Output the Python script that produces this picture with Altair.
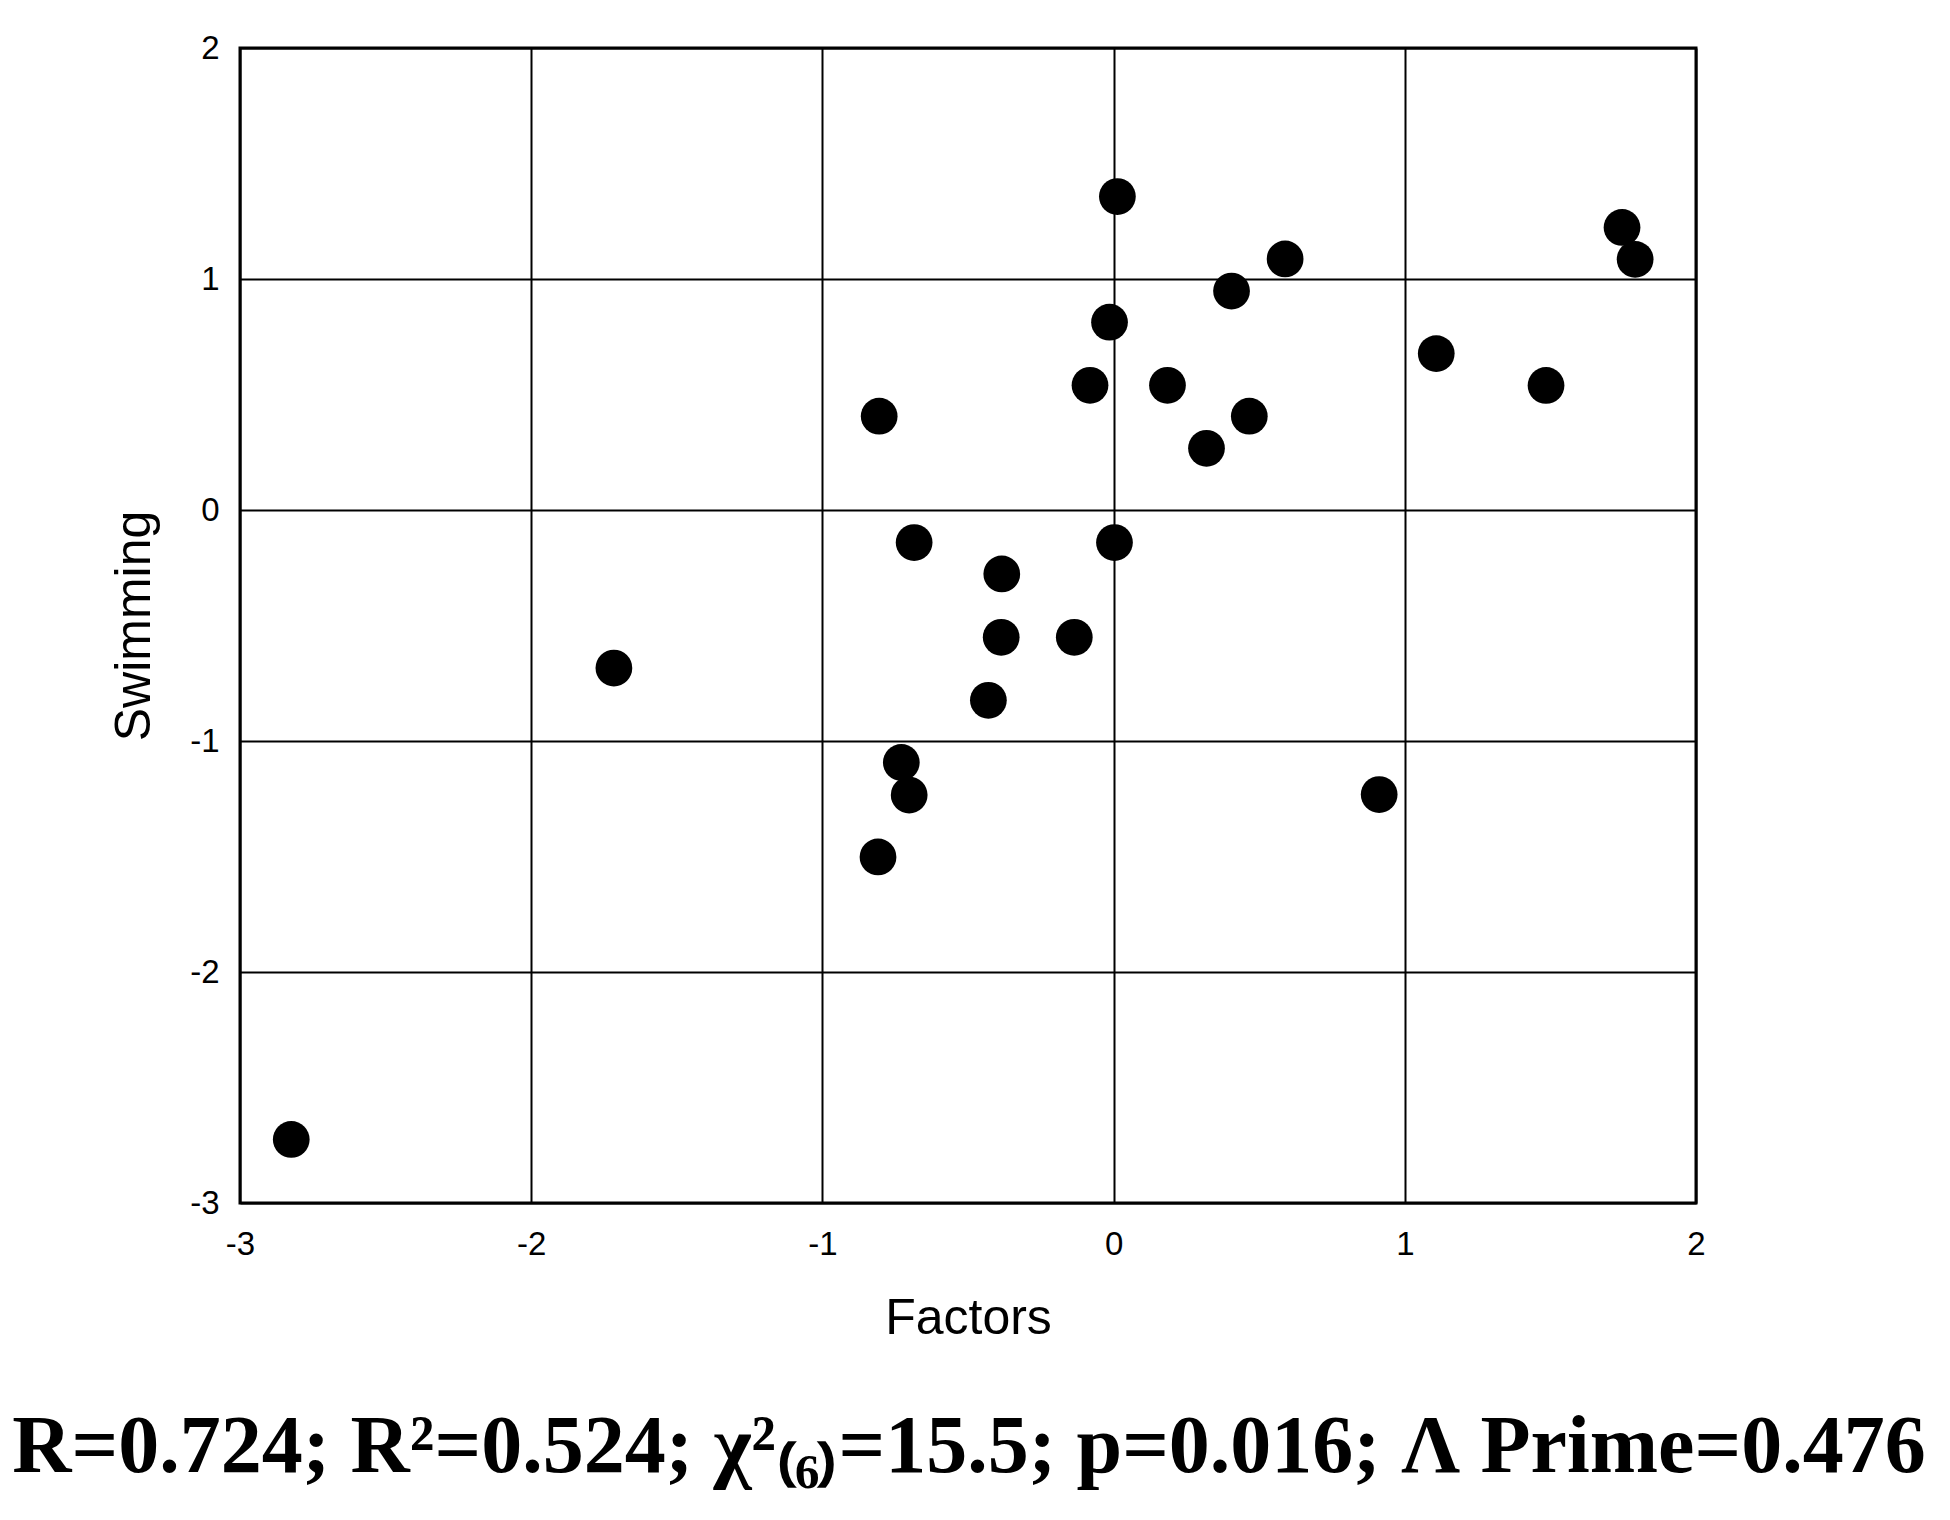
import pandas as pd
import altair as alt

# factor score vs swimming score
factors = [-2.824, -1.716, -0.805, -0.685, -0.729, -0.702, -0.809, -0.430,
           -0.384, -0.386, -0.135, -0.081, -0.014, 0.013, 0.003, 0.185,
           0.319, 0.405, 0.466, 0.589, 0.912, 1.108, 1.485, 1.746, 1.791]
swimming = [-2.725, -0.684, 0.406, -0.141, -1.093, -1.234, -1.502, -0.824,
            -0.277, -0.551, -0.551, 0.540, 0.813, 1.357, -0.141, 0.540,
            0.267, 0.948, 0.406, 1.087, -1.232, 0.677, 0.539, 1.223, 1.085]
ticks = [-3, -2, -1, 0, 1, 2]
caption = "R=0.724; R\u00b2=0.524; \u03c7\u00b2\u208d\u2086\u208e=15.5; p=0.016; \u039b Prime=0.476"

df = pd.DataFrame({"Factors": factors, "Swimming": swimming})

W, H = 1456, 1155
SANS = "Liberation Sans"

points = alt.Chart(df).mark_circle(size=1350, color="black", opacity=1).encode(
    x=alt.X("Factors:Q",
            scale=alt.Scale(domain=[-3, 2], nice=False, zero=False),
            axis=alt.Axis(values=ticks, labelExpr="toString(datum.value)",
                          labelFlush=False, labelPadding=25,
                          titleY=130, titleBaseline="alphabetic",
                          titleFontSize=50, titleFontWeight="normal")),
    y=alt.Y("Swimming:Q",
            scale=alt.Scale(domain=[-3, 2], nice=False, zero=False),
            axis=alt.Axis(values=ticks, labelExpr="toString(datum.value)",
                          labelFlush=False, labelPadding=21,
                          titleX=-91, titleY=H / 2,
                          titleBaseline="alphabetic", titleAlign="center",
                          titleFontSize=50, titleFontWeight="normal")),
)

stats = alt.Chart(pd.DataFrame({"t": [caption]})).mark_text(
    font="Liberation Serif", fontSize=82, fontWeight="bold", color="black",
    align="center", baseline="alphabetic"
).encode(
    text="t:N",
    x=alt.value(729),
    y=alt.value(1424),
)

chart = alt.layer(points, stats).properties(
    width=W,
    height=H,
    autosize=alt.AutoSizeParams(type="none"),
    padding={"left": 232, "top": 40, "right": 246, "bottom": 295},
    background="white",
).configure_view(
    stroke="black",
    strokeWidth=3,
).configure_axis(
    domain=False,
    ticks=False,
    grid=True,
    gridColor="black",
    gridWidth=2,
    gridOpacity=1,
    labelFont=SANS,
    labelFontSize=33,
    labelColor="black",
    titleFont=SANS,
    titleColor="black",
)

chart.save("out.html", embed_options={"renderer": "svg", "actions": False})
